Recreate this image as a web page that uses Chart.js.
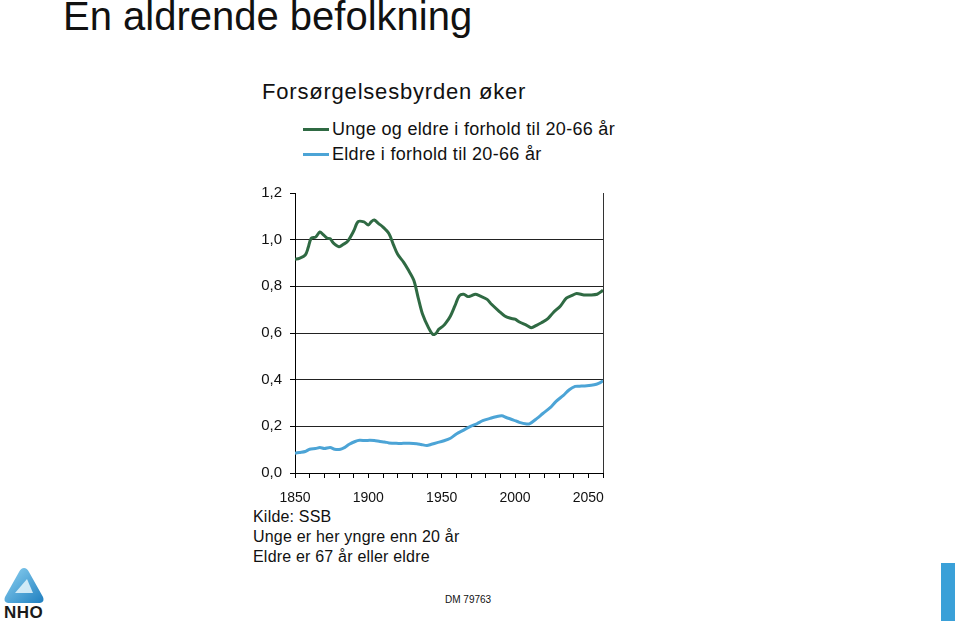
<!DOCTYPE html>
<html>
<head>
<meta charset="utf-8">
<script src="https://cdn.jsdelivr.net/npm/chart.js@4/dist/chart.umd.min.js"></script>
<style>
  body { margin: 0; width: 960px; height: 626px; background: #fff; position: relative; overflow: hidden;
         font-family: "Liberation Sans", Arial, sans-serif; color: #111; }
  .abs { position: absolute; white-space: nowrap; }
  #tittel { left: 63px; top: -6px; font-size: 40px; }
  #undertittel { left: 262px; top: 79px; font-size: 22px; letter-spacing: 0.8px; }
  .leg { left: 303px; font-size: 18px; letter-spacing: 0.3px; }
  .leg span { display: inline-block; width: 26px; height: 3px; vertical-align: middle; margin-right: 3px; position: relative; top: -1px; }
  .note { left: 253px; font-size: 16px; letter-spacing: 0.2px; }
  #dm { left: 445px; top: 594px; font-size: 10px; }
  #strek { left: 941px; top: 563px; width: 14px; height: 58px; background: #3aa0d8; }
  #nho { left: 4px; top: 603px; font-size: 17px; font-weight: bold; color: #1a1a1a; letter-spacing: 0.5px; }
  canvas { position: absolute; left: 240px; top: 176px; }
</style>
</head>
<body>
<div class="abs" id="tittel">En aldrende befolkning</div>
<div class="abs" id="undertittel">Forsørgelsesbyrden øker</div>
<div class="abs leg" style="top:119px"><span style="background:#2f6a43"></span>Unge og eldre i forhold til 20-66 år</div>
<div class="abs leg" style="top:144px"><span style="background:#4ca4d6"></span>Eldre i forhold til 20-66 år</div>
<div class="abs note" style="top:508px">Kilde: SSB</div>
<div class="abs note" style="top:528px">Unge er her yngre enn 20 år</div>
<div class="abs note" style="top:548px">Eldre er 67 år eller eldre</div>
<div class="abs" id="dm">DM 79763</div>
<div class="abs" id="strek"></div>
<svg class="abs" style="left:3px;top:566px" width="42" height="40" viewBox="0 0 42 40">
  <defs>
    <linearGradient id="g1" x1="0" y1="0" x2="1" y2="1">
      <stop offset="0" stop-color="#8fd3f2"/>
      <stop offset="1" stop-color="#1f7fc0"/>
    </linearGradient>
  </defs>
  <path d="M21 2 Q24 2 26 6 L40 31 Q42 36 37 37 L5 37 Q0 36 2 31 L16 6 Q18 2 21 2 Z" fill="url(#g1)"/>
  <path d="M24 13 L30 27 L12 27 Z" fill="#e8f6fc" opacity="0.85"/>
</svg>
<div class="abs" id="nho">NHO</div>

<canvas id="graf" width="380" height="330"></canvas>

<script>
  // Unge og eldre i forhold til 20-66 år
  const aarTotal = [1850, 1853, 1857, 1859, 1861, 1864, 1867, 1869, 1872, 1874, 1876, 1880, 1883, 1886,
    1890, 1893, 1897, 1900, 1902, 1904, 1907, 1910, 1914, 1917, 1920, 1924, 1927, 1931, 1934, 1937, 1941,
    1944, 1946, 1948, 1951, 1953, 1956, 1959, 1962, 1965, 1968, 1970, 1973, 1976, 1981, 1984, 1989, 1993,
    1997, 2000, 2003, 2008, 2011, 2015, 2018, 2022, 2026, 2031, 2035, 2039, 2042, 2047, 2051, 2056, 2060];
  const verdiTotal = [0.916, 0.92, 0.934, 0.966, 1.006, 1.011, 1.033, 1.023, 1.006, 1.004, 0.987, 0.97, 0.98, 0.994,
    1.037, 1.077, 1.076, 1.063, 1.077, 1.084, 1.069, 1.054, 1.026, 0.98, 0.937, 0.904, 0.873, 0.826, 0.751, 0.68, 0.623,
    0.594, 0.597, 0.616, 0.63, 0.644, 0.673, 0.716, 0.759, 0.766, 0.756, 0.759, 0.766, 0.759, 0.744, 0.723, 0.694, 0.673,
    0.663, 0.659, 0.647, 0.633, 0.623, 0.634, 0.644, 0.659, 0.687, 0.716, 0.749, 0.761, 0.769, 0.763, 0.763, 0.766, 0.783];

  // Eldre i forhold til 20-66 år
  const aarEldre = [1850, 1853, 1857, 1860, 1864, 1867, 1870, 1874, 1877, 1881, 1884, 1887, 1891, 1894, 1898,
    1901, 1904, 1908, 1911, 1914, 1919, 1924, 1928, 1933, 1936, 1940, 1943, 1947, 1951, 1956, 1960, 1965, 1969,
    1974, 1978, 1983, 1987, 1991, 1994, 1999, 2003, 2008, 2010, 2015, 2019, 2024, 2028, 2033, 2037, 2041, 2044,
    2049, 2054, 2057, 2060];
  const verdiEldre = [0.085, 0.088, 0.092, 0.102, 0.105, 0.109, 0.105, 0.109, 0.102, 0.102, 0.11, 0.123, 0.135, 0.14, 0.139,
    0.14, 0.139, 0.135, 0.133, 0.129, 0.127, 0.127, 0.127, 0.125, 0.122, 0.118, 0.123, 0.13, 0.137, 0.149, 0.167, 0.184, 0.198,
    0.211, 0.224, 0.234, 0.241, 0.245, 0.238, 0.227, 0.217, 0.21, 0.211, 0.234, 0.255, 0.28, 0.307, 0.333, 0.357, 0.371, 0.372,
    0.374, 0.378, 0.384, 0.395];

  const yVerdier = [0, 0.2, 0.4, 0.6, 0.8, 1.0, 1.2];
  const xEtiketter = [1850, 1900, 1950, 2000, 2050];

  const tilPunkter = (aar, verdier) => aar.map((a, i) => ({ x: a, y: verdier[i] }));

  const ctx = document.getElementById("graf").getContext("2d");
  new Chart(ctx, {
    type: "line",
    data: {
      datasets: [
        { label: "Unge og eldre i forhold til 20-66 år", data: tilPunkter(aarTotal, verdiTotal),
          borderColor: "#2f6a43", borderWidth: 3, pointRadius: 0, tension: 0.3 },
        { label: "Eldre i forhold til 20-66 år", data: tilPunkter(aarEldre, verdiEldre),
          borderColor: "#4ca4d6", borderWidth: 3, pointRadius: 0, tension: 0.3 }
      ]
    },
    options: {
      responsive: false,
      animation: false,
      layout: { padding: { top: 7, right: 17, left: 0, bottom: 0 } },
      plugins: { legend: { display: false }, tooltip: { enabled: false } },
      scales: {
        x: {
          type: "linear", min: 1850, max: 2060,
          afterFit: s => { s.height = 33; },
          border: { color: "#000", width: 1 },
          grid: {
            color: c => c.tick && c.tick.value === 2060 ? "#333" : "transparent",
            tickColor: "#000", tickLength: 5
          },
          ticks: {
            stepSize: 10, autoSkip: false, maxRotation: 0, padding: 12,
            color: "#111", font: { family: "Liberation Sans", size: 14 },
            callback: v => xEtiketter.includes(v) ? String(v) : ""
          }
        },
        y: {
          min: 0, max: 1.2,
          afterFit: s => { s.width = 55; },
          afterBuildTicks: s => { s.ticks = yVerdier.map(v => ({ value: v })); },
          border: { color: "#000", width: 1 },
          grid: {
            color: c => c.tick && c.tick.value === 1.2 ? "transparent" : "#222",
            tickColor: "#000", tickLength: 5
          },
          ticks: {
            padding: 8, color: "#111", font: { family: "Liberation Sans", size: 15 },
            callback: v => v.toFixed(1).replace(".", ",")
          }
        }
      }
    }
  });
</script>
</body>
</html>
